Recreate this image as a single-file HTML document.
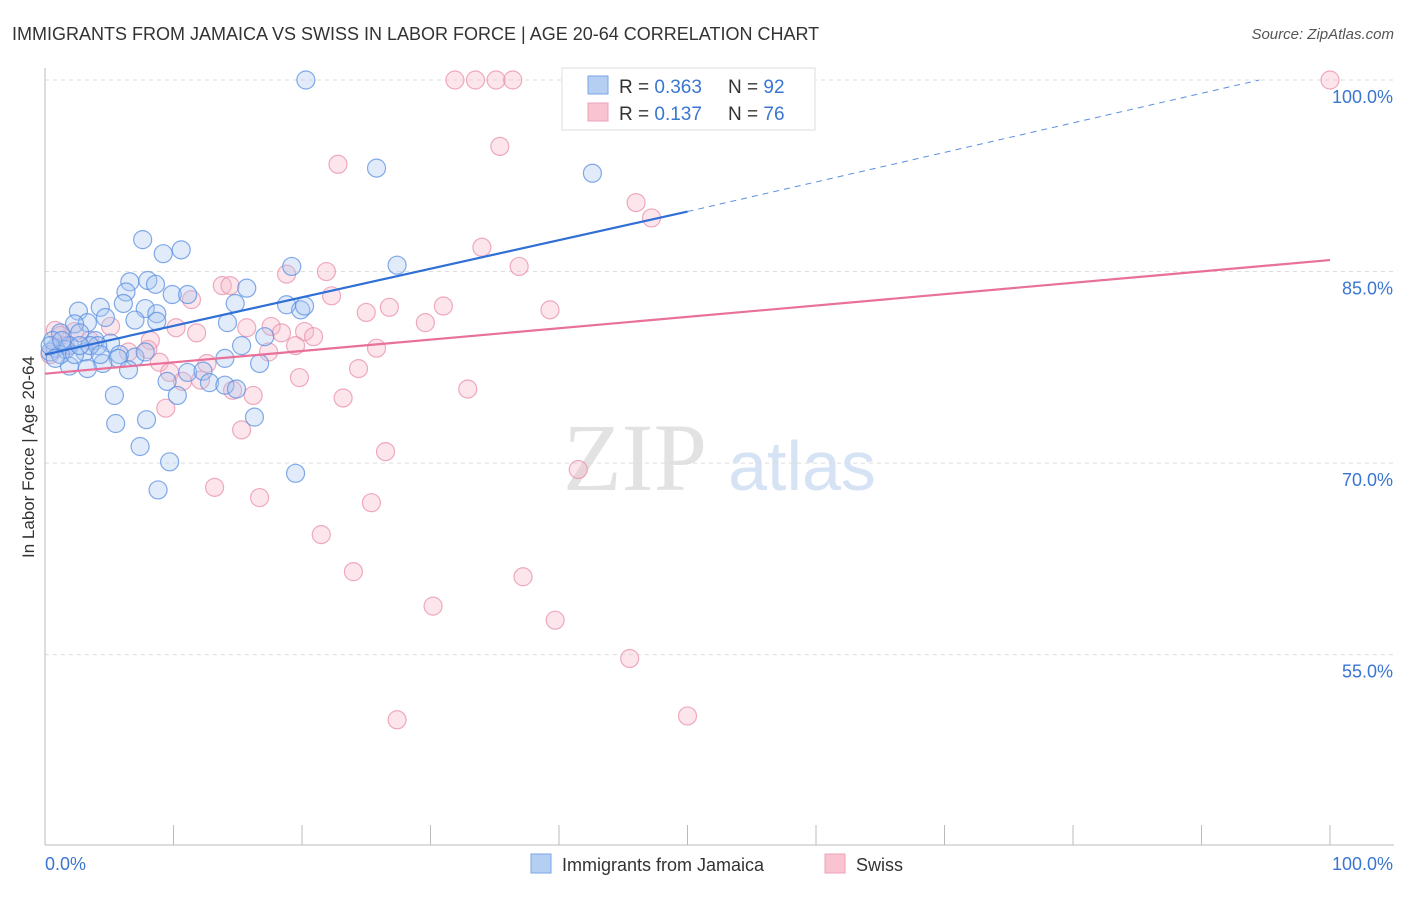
<!DOCTYPE html>
<html><head><meta charset="utf-8"><style>
body{margin:0;background:#fff;font-family:"Liberation Sans",sans-serif;}
svg text{font-family:"Liberation Sans",sans-serif;}
</style></head><body>
<svg id="chart" width="1406" height="892" xmlns="http://www.w3.org/2000/svg">
<text x="12" y="40" font-size="18" fill="#333">IMMIGRANTS FROM JAMAICA VS SWISS IN LABOR FORCE | AGE 20-64 CORRELATION CHART</text>
<text x="1394" y="39" font-size="15" fill="#555" font-style="italic" text-anchor="end">Source: ZipAtlas.com</text>
<text x="34" y="457" font-size="17" fill="#333" text-anchor="middle" transform="rotate(-90 34 457)">In Labor Force | Age 20-64</text>
<g>
<text x="635" y="490" font-size="96" fill="#e2e2e2" text-anchor="middle" style="font-family:'Liberation Serif',serif">ZIP</text>
<text x="802" y="490" font-size="70" fill="#d6e3f5" text-anchor="middle">atlas</text>
</g>
<g id="grid"></g><g id="axes"></g><g id="pts"></g><g id="lines"></g>
<g>
<rect x="562" y="68" width="253" height="62" fill="#fff" stroke="#ddd"/>
<rect x="588" y="76" width="20" height="18" fill="#b5cff3" stroke="#7aa6e6"/>
<rect x="588" y="103" width="20" height="18" fill="#f9c3d2" stroke="#eea0b6"/>
<text x="619" y="93" font-size="19" fill="#333">R = <tspan fill="#3a76d1">0.363</tspan></text>
<text x="728" y="93" font-size="19" fill="#333">N = <tspan fill="#3a76d1">92</tspan></text>
<text x="619" y="120" font-size="19" fill="#333">R = <tspan fill="#3a76d1"> 0.137</tspan></text>
<text x="728" y="120" font-size="19" fill="#333">N = <tspan fill="#3a76d1">76</tspan></text>
</g>
<g>
<rect x="531" y="854" width="20" height="19" fill="#b5cff3" stroke="#7aa6e6"/>
<text x="562" y="871" font-size="18" fill="#333">Immigrants from Jamaica</text>
<rect x="825" y="854" width="20" height="19" fill="#f9c3d2" stroke="#eea0b6"/>
<text x="856" y="871" font-size="18" fill="#333">Swiss</text>
</g>
</svg>
<script>
const yTicks=[100,85,70,55];
const yTickLabels=["100.0%","85.0%","70.0%","55.0%"];
const xTickLabels=["0.0%","100.0%"];
const blueX=[20.3,25.8,42.6,7.6,10.6,9.2,19.2,27.4,6.6,8.0,8.6,15.7,9.9,11.1,6.3,14.8,4.3,2.6,7.8,6.1,8.7,18.8,19.9,20.2,7.0,8.7,14.2,4.7,3.3,2.3,17.1,15.3,2.7,1.2,3.9,1.9,5.1,0.8,0.4,1.6,3.1,4.1,5.8,7.0,7.8,5.7,16.7,14.0,4.5,6.5,3.3,1.9,11.1,12.3,9.5,12.8,14.0,14.9,10.3,5.4,7.9,16.3,5.5,7.4,9.7,19.5,8.8,0.6,1.2,2.3,3.5,0.4,1.3,2.7,4.3,0.8];
const blueY=[100,93.1,92.7,87.5,86.7,86.4,85.4,85.5,84.2,84.3,84.0,83.7,83.2,83.2,83.4,82.5,82.2,81.9,82.1,82.5,81.7,82.4,82.0,82.3,81.2,81.1,81.0,81.4,81.0,80.9,79.9,79.2,80.2,80.2,79.6,79.2,79.4,79.0,78.7,78.9,78.7,79.2,78.5,78.3,78.7,78.2,77.8,78.2,77.8,77.3,77.4,77.6,77.1,77.2,76.4,76.3,76.1,75.8,75.3,75.3,73.4,73.6,73.1,71.3,70.1,69.2,67.9,79.6,78.5,78.5,79.2,79.2,79.6,79.2,78.5,78.2];
const pinkX=[100,31.9,33.5,35.1,36.4,35.4,22.8,46.0,47.2,34.0,36.9,21.9,18.8,13.8,14.4,11.4,22.3,26.8,31.0,25.0,39.3,29.6,17.6,15.7,10.2,20.2,20.9,18.4,11.8,5.1,0.8,1.2,2.3,8.2,6.5,8.9,19.5,25.8,17.4,8.0,24.4,9.7,10.7,12.6,19.8,32.9,14.6,16.2,23.2,9.4,15.3,26.5,41.5,13.2,16.7,25.4,21.5,24.0,37.2,30.2,39.7,45.5,27.4,50.0,0.4,1.6,3.5,12.1];
const pinkY=[100,100,100,100,100,94.8,93.4,90.4,89.2,86.9,85.4,85.0,84.8,83.9,83.9,82.8,83.1,82.2,82.3,81.8,82.0,81.0,80.7,80.6,80.6,80.3,79.9,80.2,80.2,80.7,80.4,80.0,80.3,79.6,78.7,77.9,79.2,79.0,78.7,78.9,77.4,77.1,76.4,77.8,76.7,75.8,75.7,75.3,75.1,74.3,72.6,70.9,69.5,68.1,67.3,66.9,64.4,61.5,61.1,58.8,57.7,54.7,49.9,50.2,78.5,79.2,79.6,76.5];
const blueTrend=[[0,78.5],[50,89.7]];
const blueDash=[[50,89.7],[94.5,100]];
const pinkTrend=[[0,77.0],[100,85.9]];
const NS="http://www.w3.org/2000/svg";
const X=v=>45+v*12.85, Y=v=>80+(100-v)*12.77;
function mk(tag,attrs,parent){const e=document.createElementNS(NS,tag);for(const k in attrs)e.setAttribute(k,attrs[k]);document.getElementById(parent).appendChild(e);return e;}
yTicks.forEach((t,i)=>{
 const l=mk('line',{x1:45,x2:1394,y1:Y(t),y2:Y(t),stroke:'#ddd','stroke-dasharray':'4,4'},'grid');
 
 
 const tx=mk('text',{x:1393,y:Y(t)+23,'font-size':18,fill:'#3a76d1','text-anchor':'end'},'grid');
 tx.textContent=yTickLabels[i];
 
 
});
mk('line',{x1:45,x2:45,y1:68,y2:845,stroke:'#bbb'},'axes');
mk('line',{x1:45,x2:1394,y1:845,y2:845,stroke:'#bbb'},'axes');
for(let k=0;k<=10;k++){const t=mk('line',{x1:X(k*10),x2:X(k*10),y1:825,y2:845,stroke:'#bbb'},'axes');
 
 }
[[0,'start'],[100,'end']].forEach((p,i)=>{const t=mk('text',{x:X(p[0])+(i?63:0),y:870,'font-size':18,fill:'#3a76d1','text-anchor':p[1]},'axes');t.textContent=xTickLabels[i];
 
 });
function dots(xs,ys,fill,stroke,name){xs.forEach((x,i)=>{const c=mk('circle',{cx:X(x),cy:Y(ys[i]),r:9,fill:fill,'fill-opacity':0.35,stroke:stroke,'stroke-opacity':0.75,'stroke-width':1.2},'pts');
 
 });}
dots(pinkX,pinkY,'#f7b6c9','#ea8fab','swiss-point');
dots(blueX,blueY,'#a8c6f0','#5a8fe0','jamaica-point');
function line(p,stroke,w,dash,name){const l=mk('line',{x1:X(p[0][0]),y1:Y(p[0][1]),x2:X(p[1][0]),y2:Y(p[1][1]),stroke:stroke,'stroke-width':w},'lines');if(dash)l.setAttribute('stroke-dasharray',dash);
 
 }
line(pinkTrend,'#e8709a',2.2,null,'swiss-trend-line');
line(blueTrend,'#2f6fd6',2.2,null,'jamaica-trend-line');
line(blueDash,'#5a8fe0',1,'6,5','jamaica-trend-extension');
</script>
</body></html>
